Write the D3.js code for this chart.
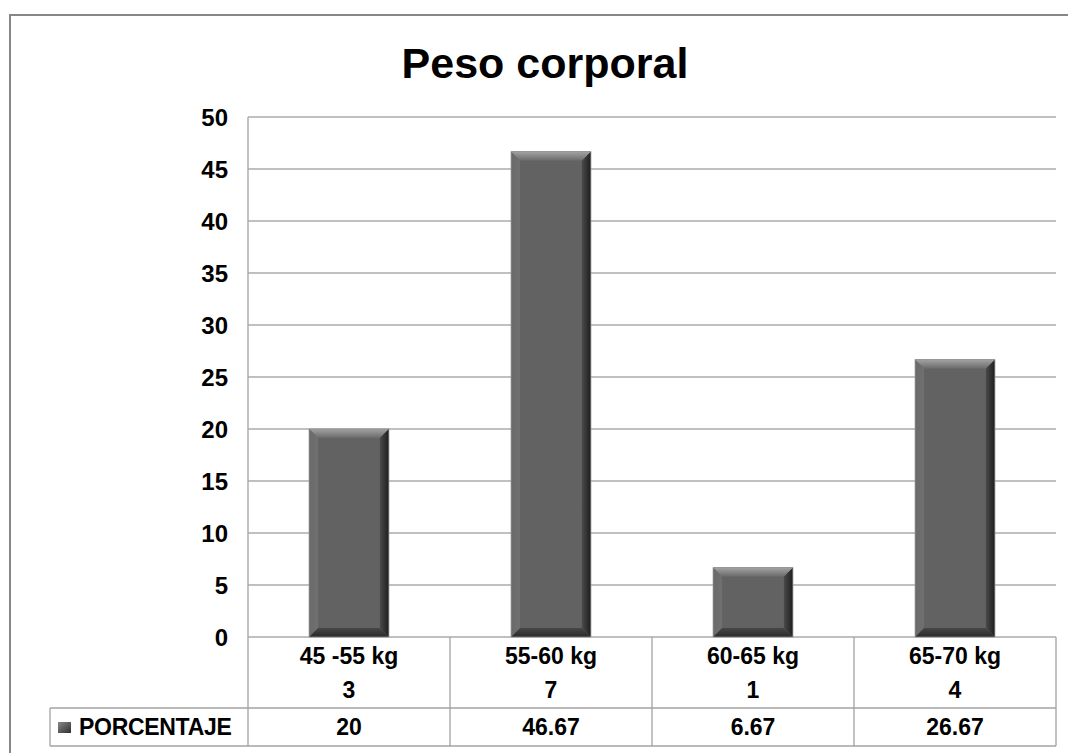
<!DOCTYPE html>
<html>
<head>
<meta charset="utf-8">
<script src="https://cdn.jsdelivr.net/npm/d3@7"></script>
<style>
  body { margin: 0; background: #fff; }
  text { font-family: "Liberation Sans", Arial, sans-serif; font-weight: bold; fill: #000; }
</style>
</head>
<body>
<div id="chart"></div>
<script>
// datos del grafico
var categories = ['45 -55 kg', '55-60 kg', '60-65 kg', '65-70 kg'];
var counts = [3, 7, 1, 4];
var percentages = [20, 46.67, 6.67, 26.67];
var seriesName = 'PORCENTAJE';
var chartTitle = 'Peso corporal';
var yTicks = [0, 5, 10, 15, 20, 25, 30, 35, 40, 45, 50];

var width = 1068, height = 753;
var plot = { left: 248, right: 1056, top: 117, bottom: 637 };
var rowLines = [637, 708, 746];
var legendLeft = 50;
var bevel = 9;

var svg = d3.select('#chart').append('svg')
    .attr('width', width)
    .attr('height', height);

// gradientes del bisel
var defs = svg.append('defs');
function grad(id, x2, y2, stops) {
    var g = defs.append('linearGradient').attr('id', id)
        .attr('x1', 0).attr('y1', 0).attr('x2', x2).attr('y2', y2);
    stops.forEach(function(s) {
        g.append('stop').attr('offset', s[0]).attr('stop-color', s[1]);
    });
}
grad('bevTop', 0, 1, [[0, '#a3a3a3'], [1, '#6a6a6a']]);
grad('bevRight', 1, 0, [[0, '#4a4a4a'], [1, '#1e1e1e']]);
grad('bevBottom', 0, 1, [[0, '#474747'], [1, '#2a2a2a']]);
grad('bevLeft', 1, 0, [[0, '#6a6a6a'], [1, '#707070']]);
grad('legendMark', 1, 1, [[0, '#8a8a8a'], [1, '#2e2e2e']]);

// borde exterior
svg.append('rect')
    .attr('x', 10).attr('y', 15)
    .attr('width', width).attr('height', height)
    .attr('fill', 'none')
    .attr('stroke', '#878787')
    .attr('stroke-width', 2);

svg.append('text')
    .attr('x', 545).attr('y', 78)
    .attr('text-anchor', 'middle')
    .style('font-size', '43px')
    .text(chartTitle);

var x = d3.scaleBand()
    .domain(categories)
    .range([plot.left, plot.right])
    .padding(0);

var y = d3.scaleLinear()
    .domain([0, 50])
    .range([plot.bottom, plot.top]);

// cuadricula
svg.append('g').selectAll('line').data(yTicks)
    .enter().append('line')
    .attr('x1', plot.left).attr('x2', plot.right)
    .attr('y1', function(d) { return y(d); })
    .attr('y2', function(d) { return y(d); })
    .attr('stroke', '#ababab')
    .attr('stroke-width', 1.3);

svg.append('g').selectAll('text').data(yTicks)
    .enter().append('text')
    .attr('x', plot.left - 20)
    .attr('y', function(d) { return y(d) + 9; })
    .attr('text-anchor', 'end')
    .style('font-size', '24px')
    .text(function(d) { return d; });

// barras con bisel
var barW = x.bandwidth() * 0.395;
var bars = svg.append('g').selectAll('g').data(percentages)
    .enter().append('g')
    .attr('transform', function(d, i) {
        return 'translate(' + (x(categories[i]) + (x.bandwidth() - barW) / 2) + ',' + y(d) + ')';
    });

bars.append('rect')
    .attr('width', barW)
    .attr('height', function(d) { return y(0) - y(d); })
    .attr('fill', '#626262');

function pts(a) { return a.map(function(p) { return p.join(','); }).join(' '); }
bars.append('polygon')
    .attr('fill', 'url(#bevTop)')
    .attr('points', function() { return pts([[0, 0], [barW, 0], [barW - bevel, bevel], [bevel, bevel]]); });
bars.append('polygon')
    .attr('fill', 'url(#bevLeft)')
    .attr('points', function(d) { var h = y(0) - y(d); return pts([[0, 0], [bevel, bevel], [bevel, h - bevel], [0, h]]); });
bars.append('polygon')
    .attr('fill', 'url(#bevRight)')
    .attr('points', function(d) { var h = y(0) - y(d); return pts([[barW, 0], [barW, h], [barW - bevel, h - bevel], [barW - bevel, bevel]]); });
bars.append('polygon')
    .attr('fill', 'url(#bevBottom)')
    .attr('points', function(d) { var h = y(0) - y(d); return pts([[0, h], [bevel, h - bevel], [barW - bevel, h - bevel], [barW, h]]); });
bars.append('rect')
    .attr('width', barW)
    .attr('height', function(d) { return y(0) - y(d); })
    .attr('fill', 'none')
    .attr('stroke', '#8c8c8c')
    .attr('stroke-width', 0.8);

// tabla de datos
var table = svg.append('g').attr('stroke', '#a3a3a3').attr('stroke-width', 1.3);
table.append('line')
    .attr('x1', plot.left).attr('x2', plot.left)
    .attr('y1', plot.top).attr('y2', rowLines[2]);
table.selectAll('.vline').data(categories)
    .enter().append('line')
    .attr('x1', function(d) { return x(d) + x.bandwidth(); })
    .attr('x2', function(d) { return x(d) + x.bandwidth(); })
    .attr('y1', rowLines[0]).attr('y2', rowLines[2]);
table.append('line')
    .attr('x1', legendLeft).attr('x2', plot.right)
    .attr('y1', rowLines[1]).attr('y2', rowLines[1]);
table.append('line')
    .attr('x1', legendLeft).attr('x2', plot.right)
    .attr('y1', rowLines[2]).attr('y2', rowLines[2]);
table.append('line')
    .attr('x1', legendLeft).attr('x2', legendLeft)
    .attr('y1', rowLines[1]).attr('y2', rowLines[2]);

var cells = svg.append('g').selectAll('g').data(categories)
    .enter().append('g')
    .attr('transform', function(d) { return 'translate(' + (x(d) + x.bandwidth() / 2) + ',0)'; });
cells.append('text')
    .attr('y', 664).attr('text-anchor', 'middle')
    .style('font-size', '23px')
    .text(function(d) { return d; });
cells.append('text')
    .attr('y', 698).attr('text-anchor', 'middle')
    .style('font-size', '23px')
    .text(function(d, i) { return counts[i]; });
cells.append('text')
    .attr('y', 735).attr('text-anchor', 'middle')
    .style('font-size', '23px')
    .text(function(d, i) { return percentages[i]; });

// leyenda
svg.append('rect')
    .attr('x', legendLeft + 8).attr('y', 722)
    .attr('width', 13).attr('height', 11)
    .attr('fill', 'url(#legendMark)');
svg.append('text')
    .attr('x', legendLeft + 29).attr('y', 735)
    .style('font-size', '23px')
    .style('letter-spacing', '-0.3px')
    .text(seriesName);
</script>
</body>
</html>
